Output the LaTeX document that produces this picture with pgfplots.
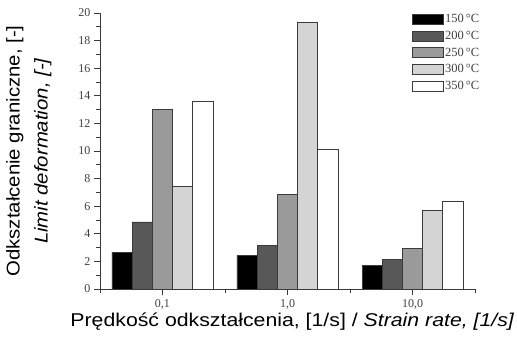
\documentclass[border=0pt]{standalone}
\usepackage{fontspec}
\setmainfont{Liberation Sans}
\newfontfamily\serif{Liberation Serif}
\newfontfamily\xlabfont[FakeStretch=1.15]{Liberation Sans}
\newfontfamily\ylabfont[FakeStretch=1.1]{Liberation Sans}
\usepackage{pgfplots}
\pgfplotsset{compat=1.18}
\definecolor{cA}{HTML}{000000}
\definecolor{cB}{HTML}{585858}
\definecolor{cC}{HTML}{9A9A9A}
\definecolor{cD}{HTML}{D4D4D4}
\definecolor{cE}{HTML}{FFFFFF}
\definecolor{edge}{HTML}{3A3A3A}
\begin{document}
\begin{tikzpicture}
\useasboundingbox (-100pt,-49pt) rectangle (417pt,289pt);
\begin{axis}[
  scale only axis, width=375pt, height=276pt,
  xmin=0.5, xmax=3.5, ymin=0, ymax=20,
  axis x line*=bottom, axis y line*=left,
  axis line style={edge, line width=0.8pt, -},
  ybar=0pt, bar width=20.2pt,
  xtick={1,2,3}, xticklabels={0{,}1,1{,}0,10{,}0},
  minor xtick={0.5,1.5,2.5,3.5},
  ytick={0,2,...,20}, minor ytick={1,3,...,19},
  tick align=outside, major tick length=6pt, minor tick length=3.5pt,
  tick style={edge, line width=0.7pt},
  /pgf/number format/assume math mode=true,
  tick label style={font=\serif\fontsize{12}{12}\selectfont, text=black!75},
  yticklabel style={xshift=0pt},
  xticklabel style={yshift=-0.5pt},
  xlabel={Prędkość odkształcenia, [1/s] / \textit{Strain rate, [1/s]}},
  xlabel style={at={(axis description cs:0.513,0)}, anchor=north, yshift=-24pt, inner sep=0pt, font=\xlabfont\fontsize{18.5}{20}\selectfont},
  ylabel={Odkształcenie graniczne, [-]\\\textit{Limit deformation, [-]}},
  ylabel style={at={(axis description cs:-0.19,0.5)}, anchor=center, align=center, inner sep=0pt, font=\ylabfont\fontsize{18.5}{28}\selectfont},
  legend image code/.code={\draw[#1, line width=0.8pt] (0pt,-5pt) rectangle (31pt,5pt);},
  legend style={draw=none, fill=none, at={(axis description cs:0.832,1.0)}, anchor=north west, inner sep=0pt, row sep=5pt, font=\serif\fontsize{12.5}{12.5}\selectfont, text=black!75, nodes={inner sep=1pt}},
  legend cell align=left,
]
\addplot[fill=cA, draw=edge, line width=0.8pt] coordinates {(1,2.68) (2,2.44) (3,1.71)};
\addplot[fill=cB, draw=edge, line width=0.8pt] coordinates {(1,4.86) (2,3.14) (3,2.15)};
\addplot[fill=cC, draw=edge, line width=0.8pt] coordinates {(1,13.0) (2,6.84) (3,2.94)};
\addplot[fill=cD, draw=edge, line width=0.8pt] coordinates {(1,7.44) (2,19.35) (3,5.72)};
\addplot[fill=cE, draw=edge, line width=0.8pt] coordinates {(1,13.6) (2,10.12) (3,6.33)};
\legend{150\,°C,200\,°C,250\,°C,300\,°C,350\,°C}
\end{axis}
\end{tikzpicture}
\end{document}
